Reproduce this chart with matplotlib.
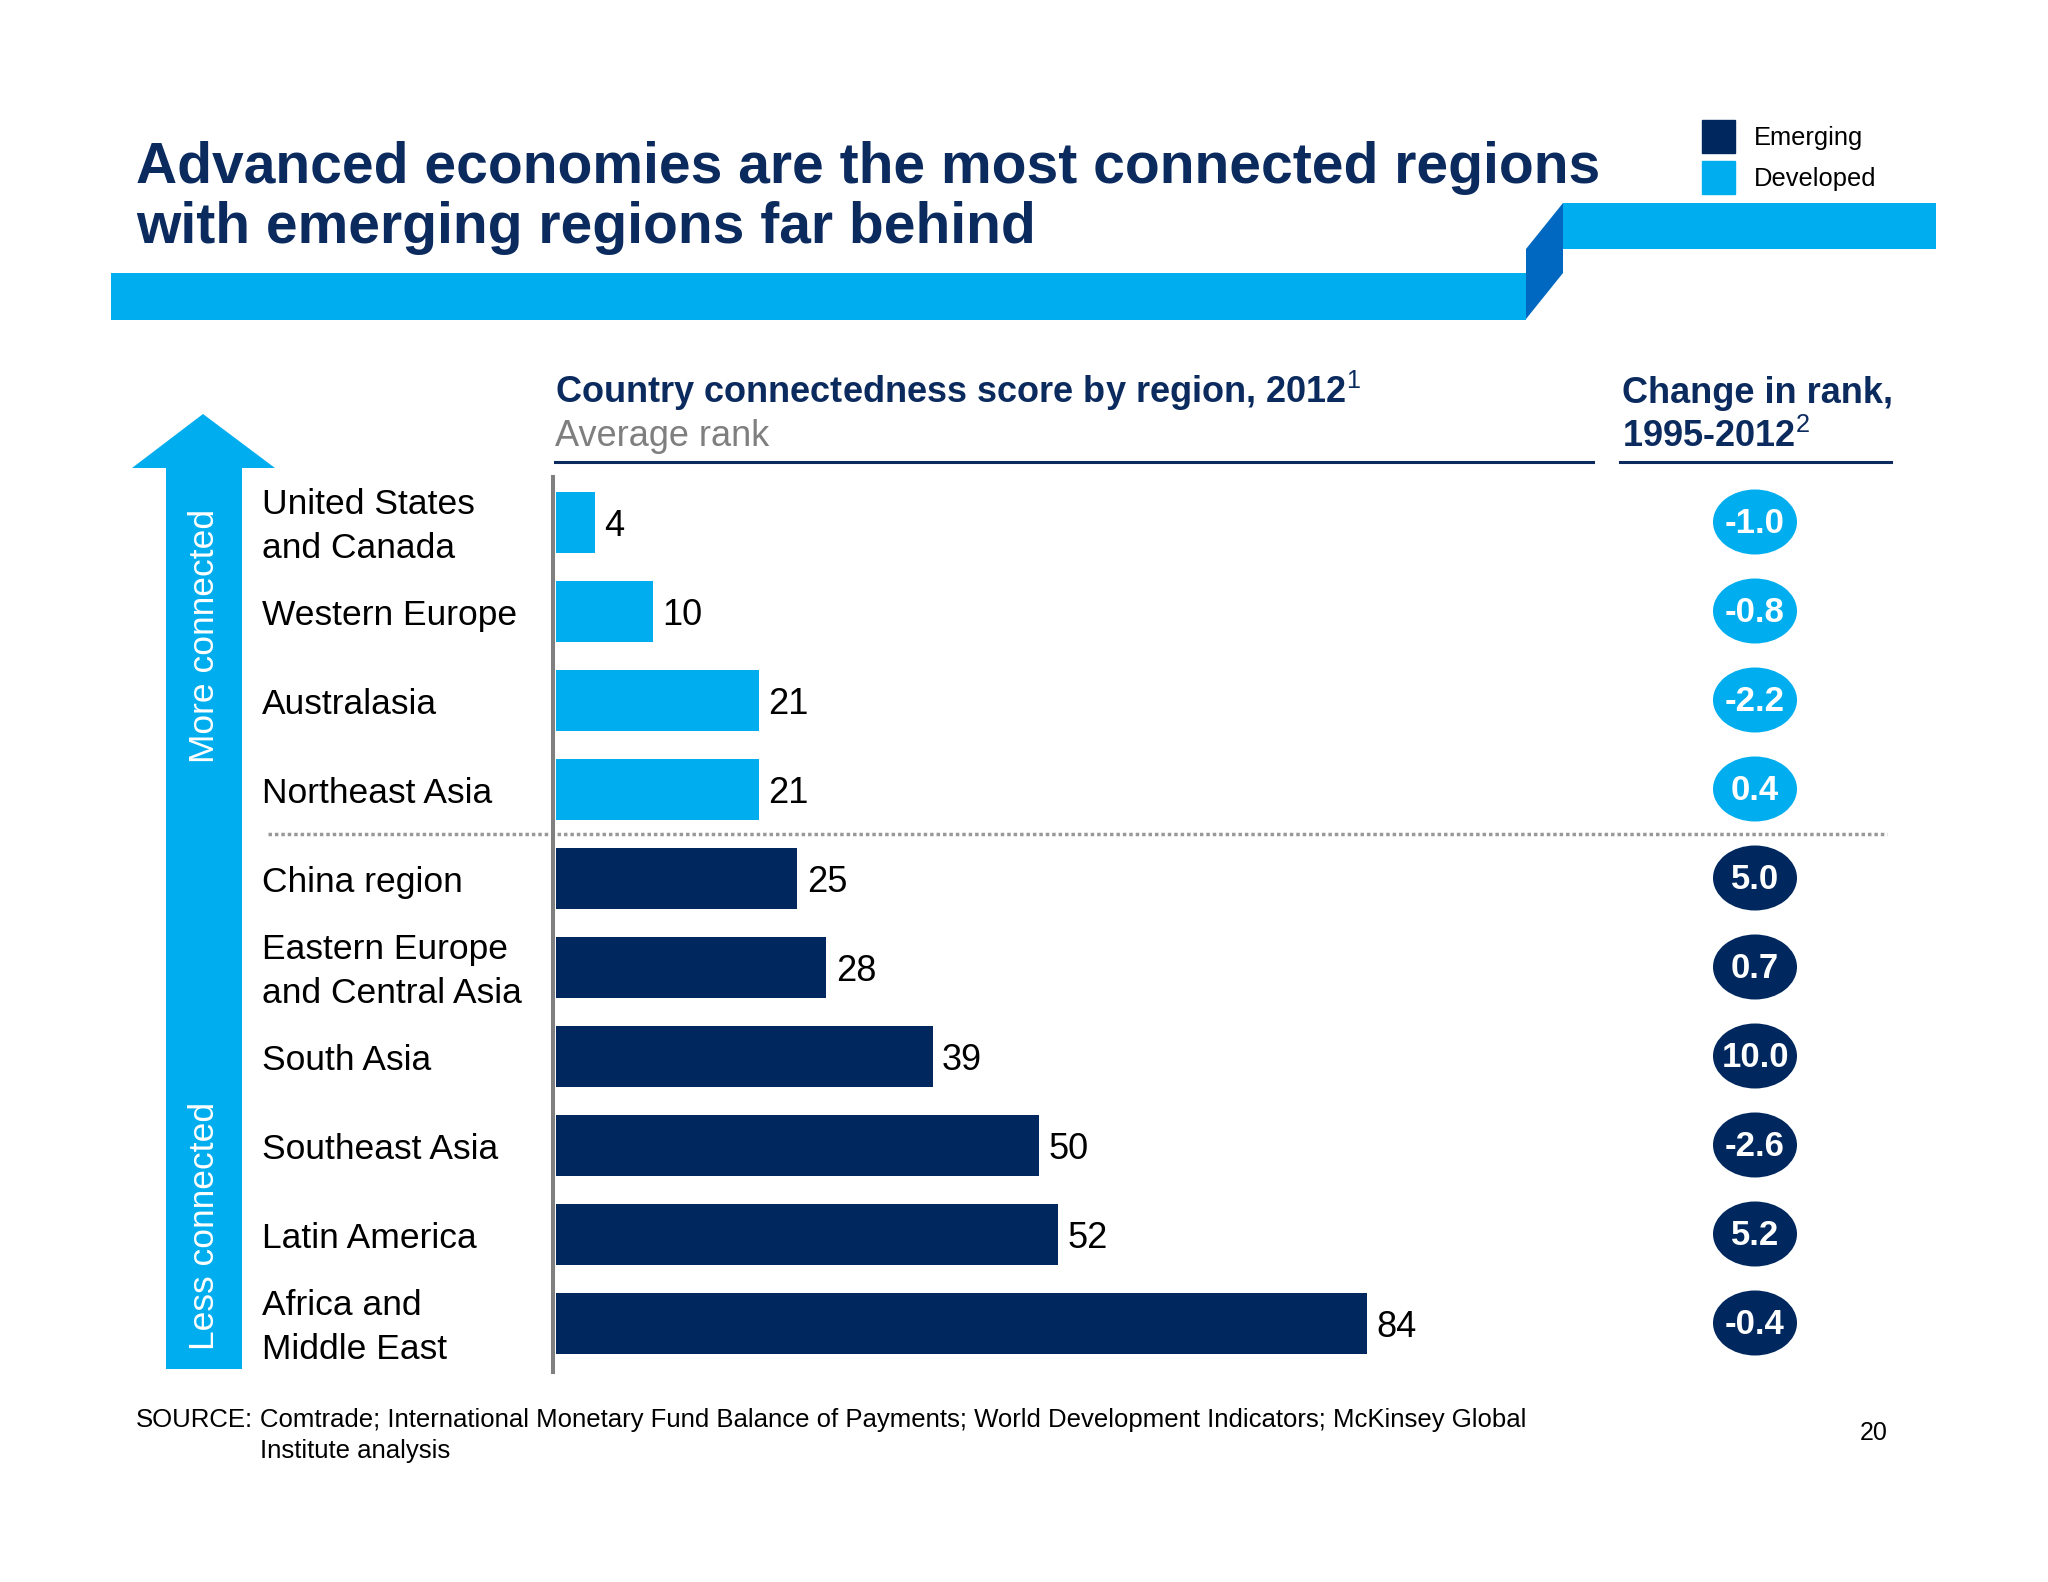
import matplotlib
matplotlib.use('Agg')
import matplotlib.pyplot as plt
import matplotlib.transforms as mtransforms
from matplotlib.patches import Polygon, Ellipse, Patch

plt.rcParams['font.family'] = ['Liberation Sans', 'DejaVu Sans']
plt.rcParams['mathtext.fontset'] = 'custom'
plt.rcParams['mathtext.rm'] = 'Liberation Sans'
plt.rcParams['mathtext.bf'] = 'Liberation Sans:bold'

# data
regions = ["United States\nand Canada", "Western Europe", "Australasia", "Northeast Asia",
           "China region", "Eastern Europe\nand Central Asia", "South Asia", "Southeast Asia",
           "Latin America", "Africa and\nMiddle East"]
avg_rank = [4, 10, 21, 21, 25, 28, 39, 50, 52, 84]
rank_change = [-1.0, -0.8, -2.2, 0.4, 5.0, 0.7, 10.0, -2.6, 5.2, -0.4]
group = ["Developed"] * 4 + ["Emerging"] * 6

title_lines = ["Advanced economies are the most connected regions",
               "with emerging regions far behind"]
source_lines = ["Comtrade; International Monetary Fund Balance of Payments; World Development Indicators; McKinsey Global",
                "Institute analysis"]

DEV = '#00aeef'
EMR = '#00285f'
NAVY = '#0b2a5e'
colors = {"Developed": DEV, "Emerging": EMR}

W, H = 2048, 1582
fig = plt.figure(figsize=(W / 100, H / 100), dpi=100)
fig.patch.set_facecolor('white')


def fx(px):
    return px / W


def fy(py):
    return 1 - py / H


# title
for i, line in enumerate(title_lines):
    fig.text(fx(136), fy(183 + 60 * i), line, fontsize=41, fontweight='bold',
             color=NAVY, va='baseline', ha='left')

# top decoration band
fig.patches.append(Polygon([(fx(111), fy(273)), (fx(1526), fy(273)), (fx(1526), fy(320)),
                            (fx(111), fy(320))], closed=True, transform=fig.transFigure,
                           color=DEV, lw=0))
fig.patches.append(Polygon([(fx(1526), fy(319)), (fx(1526), fy(249)), (fx(1563), fy(203)),
                            (fx(1563), fy(273))], closed=True, transform=fig.transFigure,
                           color='#0068c0', lw=0))
fig.patches.append(Polygon([(fx(1563), fy(203)), (fx(1936), fy(203)), (fx(1936), fy(249)),
                            (fx(1563), fy(249))], closed=True, transform=fig.transFigure,
                           color=DEV, lw=0))

# legend
handles = [Patch(color=EMR), Patch(color=DEV)]
fig.legend(handles, ["Emerging", "Developed"], loc='upper left',
           bbox_to_anchor=(fx(1702), fy(120)), frameon=False, fontsize=18.4,
           handlelength=1.29, handleheight=1.61, handletextpad=0.75, labelspacing=0.3,
           borderpad=0, borderaxespad=0)

# main bar axes
top_px, bot_px = 477, 1372
pitch, c0 = 89, 522
ax = fig.add_axes([fx(553), fy(bot_px), fx(1593) - fx(553), (bot_px - top_px) / H])
y = list(range(len(regions)))
ax.barh(y, avg_rank, height=61 / pitch, color=[colors[g] for g in group], left=0)
ax.set_xlim(-0.31, 107.35)
ax.set_ylim((bot_px - c0) / pitch, (top_px - c0) / pitch)
for s in ['top', 'right', 'bottom']:
    ax.spines[s].set_visible(False)
ax.spines['left'].set_color('#808080')
ax.spines['left'].set_linewidth(2.9)
ax.set_xticks([])
ax.set_yticks([])
ax.patch.set_alpha(0)

for i, v in enumerate(avg_rank):
    ax.text(v + 0.95, i + 0.05, str(v), fontsize=26, va='center', ha='left', color='black')

lab_tr = mtransforms.blended_transform_factory(fig.transFigure, ax.transData)
for i, r in enumerate(regions):
    ax.text(fx(262), i + 0.05, r, transform=lab_tr, fontsize=25.5, va='center', ha='left',
            color='black', linespacing=1.42)

# separator between developed and emerging
n_dev = group.count("Developed")
ax.plot([fx(268), fx(1887)], [n_dev - 0.5, n_dev - 0.5], transform=lab_tr, clip_on=False,
        color='#999999', lw=2.5, linestyle=(0, (1, 0.85)))

# headers
fig.text(fx(555), fy(403), r"Country connectedness score by region, 2012$^{\mathrm{1}}$",
         fontsize=26, fontweight='bold', color=NAVY, va='baseline')
fig.text(fx(555), fy(446), "Average rank", fontsize=26, color='#7f7f7f', va='baseline')
fig.add_artist(plt.Line2D([fx(555), fx(1593)], [fy(462), fy(462)], color=NAVY, lw=2.2))
fig.text(fx(1622), fy(403), "Change in rank,", fontsize=26, fontweight='bold', color=NAVY,
         va='baseline')
fig.text(fx(1622), fy(447), r"1995-2012$^{\mathrm{2}}$", fontsize=26, fontweight='bold',
         color=NAVY, va='baseline')
fig.add_artist(plt.Line2D([fx(1620), fx(1891)], [fy(462), fy(462)], color=NAVY, lw=2.2))

# change in rank bubbles
ax2 = fig.add_axes([fx(1700), fy(bot_px), fx(1810) - fx(1700), (bot_px - top_px) / H])
ax2.set_xlim(0, 110)
ax2.set_ylim(ax.get_ylim())
ax2.axis('off')
for i, c in enumerate(rank_change):
    ax2.add_patch(Ellipse((55, i), 84, 65 / pitch, color=colors[group[i]], lw=0))
    ax2.text(55, i + 0.02, f"{c:.1f}", fontsize=25, fontweight='bold', color='white',
             ha='center', va='center')

# arrow on the left
fig.patches.append(Polygon([(fx(203), fy(414)), (fx(275), fy(468)), (fx(242), fy(468)),
                            (fx(242), fy(1369)), (fx(166), fy(1369)), (fx(166), fy(468)),
                            (fx(132), fy(468))], closed=True, transform=fig.transFigure,
                           color=DEV, lw=0))
fig.text(fx(205), fy(636), "More connected", rotation=90, fontsize=25.5, color='white',
         ha='center', va='center')
fig.text(fx(205), fy(1226), "Less connected", rotation=90, fontsize=25.5, color='white',
         ha='center', va='center')

# source and page number
fig.text(fx(136), fy(1427), "SOURCE:", fontsize=18.5, va='baseline')
for i, line in enumerate(source_lines):
    fig.text(fx(260), fy(1427 + 31 * i), line, fontsize=18.5, va='baseline')
fig.text(fx(1874), fy(1433), "20", fontsize=18, ha='center', va='center')

fig.savefig('out.png', dpi=100, facecolor='white')
